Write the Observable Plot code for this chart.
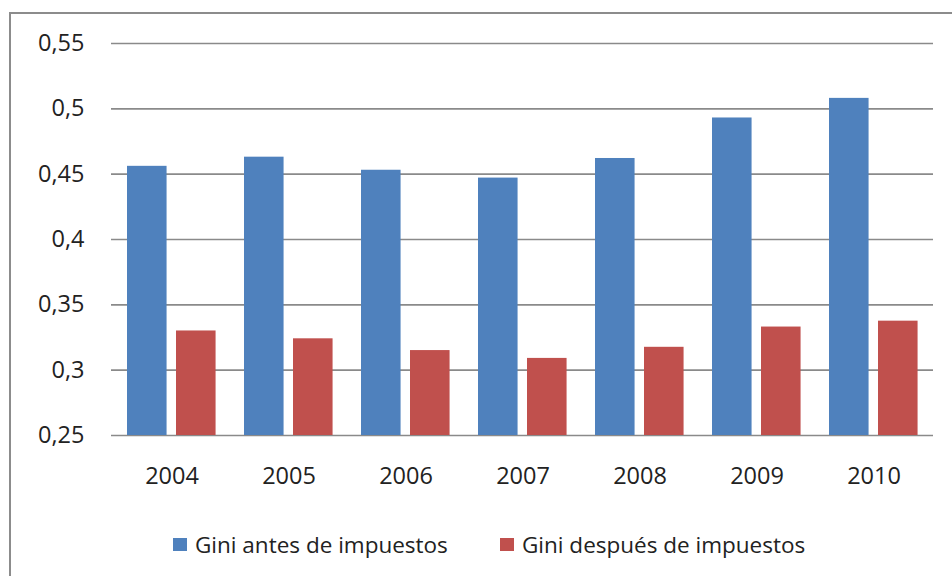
<!DOCTYPE html>
<html>
<head>
<meta charset="utf-8">
<script src="https://cdn.jsdelivr.net/npm/d3@7"></script>
<script src="https://cdn.jsdelivr.net/npm/@observablehq/plot@0.6"></script>
<style>
  body { margin: 0; background: #fff; }
  #wrap { position: relative; width: 952px; height: 576px; overflow: hidden; background: #fff; }
  #frame { position: absolute; left: 9px; top: 12px; width: 1000px; height: 700px;
           border-left: 2px solid #8c8c8c; border-top: 2px solid #8c8c8c; }
  #chart { position: absolute; left: 0; top: 0; }
  #legend { position: absolute; left: 0; top: 0; }
</style>
</head>
<body>
<div id="wrap">
  <div id="frame"></div>
  <div id="chart"></div>
  <svg id="legend" width="952" height="576"></svg>
</div>
<script>
const years = ["2004", "2005", "2006", "2007", "2008", "2009", "2010"];
const giniAntes = [0.456, 0.463, 0.453, 0.447, 0.462, 0.493, 0.508];
const giniDespues = [0.330, 0.324, 0.315, 0.309, 0.3175, 0.333, 0.3375];
const seriesNames = ["Gini antes de impuestos", "Gini después de impuestos"];
const seriesColors = ["#4F81BD", "#C0504D"];
const yTicks = [0.25, 0.30, 0.35, 0.40, 0.45, 0.50, 0.55];
const yTickLabels = ["0,25", "0,3", "0,35", "0,4", "0,45", "0,5", "0,55"];

const antesData = years.map((y, i) => ({year: y, value: giniAntes[i]}));
const despuesData = years.map((y, i) => ({year: y, value: giniDespues[i]}));

const W = 952, H = 576;
const mL = 111, mR = 19, mT = 43, mB = 141;
const band = (W - mL - mR) / years.length;
const barW = 40, outer = 14, gap = 9;

const plot = Plot.plot({
  width: W,
  height: H,
  marginLeft: mL,
  marginRight: mR,
  marginTop: mT,
  marginBottom: mB,
  style: {fontFamily: "Open Sans, sans-serif", fontSize: "23.5px", color: "#222", background: "transparent"},
  x: {domain: years, padding: 0, label: null, tickSize: 0, tickPadding: 32},
  y: {domain: [0.25, 0.55], ticks: yTicks, tickFormat: d => yTickLabels[yTicks.findIndex(t => Math.abs(t - d) < 1e-9)], tickSize: 0, tickPadding: 27, label: null},
  marks: [
    Plot.ruleY(yTicks, {stroke: "#8a8a8a", strokeWidth: 1.6}),
    Plot.barY(antesData, {x: "year", y1: 0.25, y2: "value", fill: seriesColors[0],
      insetLeft: outer, insetRight: band - outer - barW}),
    Plot.barY(despuesData, {x: "year", y1: 0.25, y2: "value", fill: seriesColors[1],
      insetLeft: outer + barW + gap, insetRight: band - outer - 2 * barW - gap})
  ]
});
document.getElementById("chart").appendChild(plot);

// Legend
const lg = d3.select("#legend");
const swX = [173, 500];
const txX = [195, 522];
seriesNames.forEach((name, i) => {
  lg.append("rect").attr("x", swX[i]).attr("y", 538).attr("width", 14).attr("height", 13)
    .attr("fill", seriesColors[i]);
  lg.append("text").attr("x", txX[i]).attr("y", 552.5)
    .attr("font-family", "Open Sans, sans-serif").attr("font-size", 22.5)
    .attr("fill", "#222").text(name);
});
</script>
</body>
</html>
